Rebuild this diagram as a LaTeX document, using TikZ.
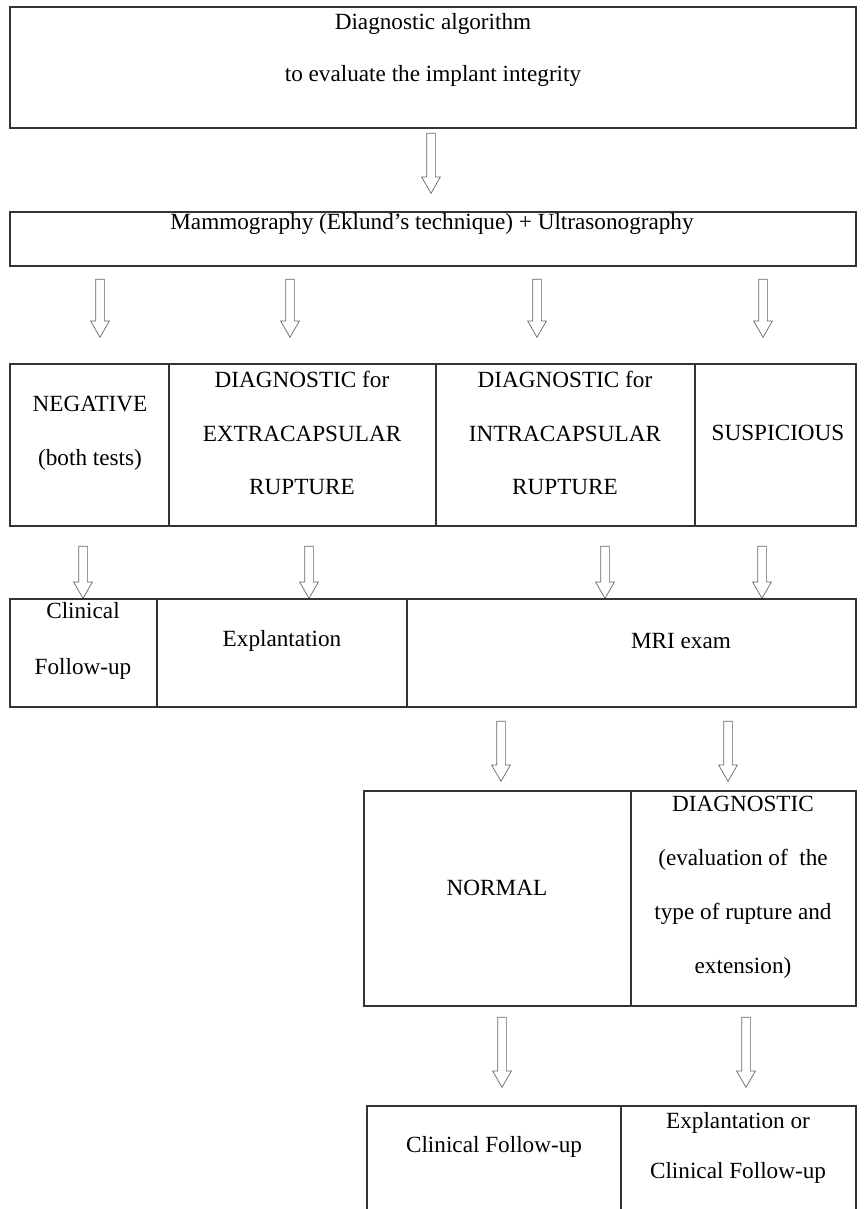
\documentclass[tikz,border=0pt]{standalone}
\usepackage{fontspec}
\setmainfont{Liberation Serif}
\usetikzlibrary{shapes.arrows,fit}

\tikzset{
  cell/.style={draw=black!80, line width=1.2pt, inner sep=0pt},
  txt/.style={align=center, inner sep=0pt, font=\fontsize{19.8}{46}\selectfont},
  hollow/.style={single arrow, draw=black!60, line width=0.6pt, shape border rotate=270,
    minimum width=0.54cm, single arrow head extend=0.15cm, single arrow tip angle=60,
    single arrow head indent=0pt, inner sep=0.12cm, minimum height=#1}
}

\begin{document}
\begin{tikzpicture}[x=0.03cm, y=-0.03cm]
        \useasboundingbox (0,0) rectangle (864,1209);
        \clip (0,0) rectangle (864,1209);

        \node[cell, fit={(10,7) (856,128)}] (algo) {};
        \node[txt, font=\fontsize{19.8}{44}\selectfont] (algo-t) at (433,50) {Diagnostic algorithm\\to evaluate the implant integrity};
        \node[hollow=1.8cm] (a1) at (431,159.5) {};

        \node[cell, fit={(10,212) (856,266)}] (mammo) {};
        \node[txt] (mammo-t) at (432,224) {Mammography (Eklund’s technique) + Ultrasonography};
        \foreach \x/\n in {100/1, 290/2, 537/3, 763/4}
            \node[hollow=1.74cm] (b\n) at (\x,304.5) {};

        \node[cell, fit={(10,364) (169,526)}] (neg) {};
        \node[cell, fit={(169,364) (436,526)}] (extra) {};
        \node[cell, fit={(436,364) (695,526)}] (intra) {};
        \node[cell, fit={(695,364) (856,526)}] (susp) {};
        \node[txt] (neg-t) at (90,433) {NEGATIVE\\(both tests)};
        \node[txt] (extra-t) at (302,433) {DIAGNOSTIC for\\EXTRACAPSULAR\\RUPTURE};
        \node[txt] (intra-t) at (565,433) {DIAGNOSTIC for\\INTRACAPSULAR\\RUPTURE};
        \node[txt] (susp-t) at (778,433) {SUSPICIOUS};
        \foreach \x/\n in {83/1, 309/2, 605/3, 762/4}
            \node[hollow=1.56cm] (c\n) at (\x,568.5) {};

        \node[cell, fit={(10,599) (157,707)}] (clin) {};
        \node[cell, fit={(157,599) (407,707)}] (expl) {};
        \node[cell, fit={(407,599) (856,707)}] (mri) {};
        \node[txt, font=\fontsize{19.8}{48}\selectfont] (clin-t) at (83,641) {Clinical\\Follow-up};
        \node[txt] (expl-t) at (282,641) {Explantation};
        \node[txt] (mri-t) at (681,641) {MRI exam};
        \foreach \x/\n in {501/1, 728/2}
            \node[hollow=1.8cm] (d\n) at (\x,747.5) {};

        \node[cell, fit={(364,791) (631,1006)}] (normal) {};
        \node[cell, fit={(631,791) (856,1006)}] (diag) {};
        \node[txt] (normal-t) at (497,888) {NORMAL};
        \node[txt] (diag-t) at (743,887) {DIAGNOSTIC\\(evaluation of\ \ the\\type of rupture and\\extension)};
        \foreach \x/\n in {502/1, 746/2}
            \node[hollow=2.1cm] (e\n) at (\x,1048.5) {};

        \node[cell, fit={(367,1106) (621,1240)}] (follow) {};
        \node[cell, fit={(621,1106) (856,1240)}] (explor) {};
        \node[txt] (follow-t) at (494,1147) {Clinical Follow-up};
        \node[txt, font=\fontsize{19.8}{43}\selectfont] (explor-t) at (738,1148) {Explantation or\\Clinical Follow-up};

    \end{tikzpicture}
\end{document}
